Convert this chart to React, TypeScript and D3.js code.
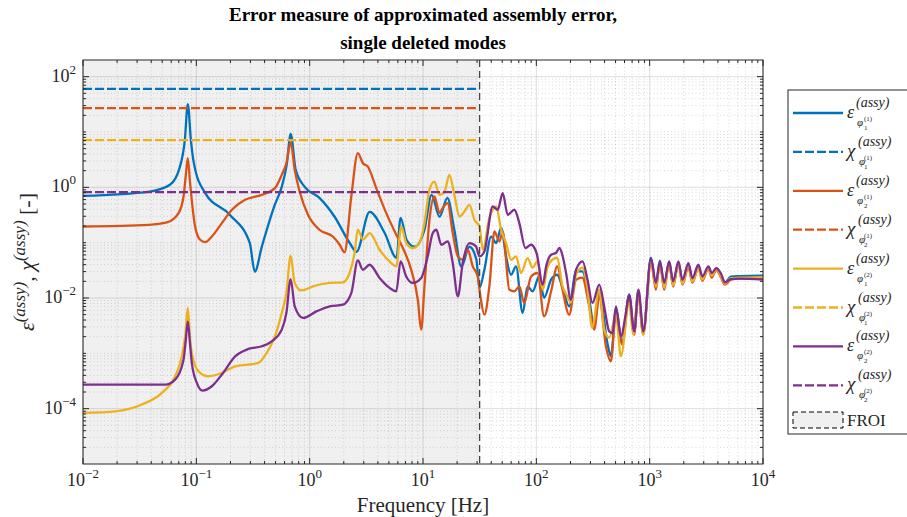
import React from 'react';
import * as d3 from 'd3';

type Pt = [number, number];

// ---------------- data (frequency [Hz], value) ----------------
const epsPhi11: Pt[] = [[0.01,0.70],[0.0389,0.84],[0.0585,1.11],[0.0716,2.34],[0.0792,7.2],[0.0841,32],[0.0895,7.2],[0.095,2.77],[0.119,0.80],[0.197,0.32],[0.296,0.0995],[0.328,0.030],[0.378,0.084],[0.492,0.48],[0.567,1.02],[0.627,2.55],[0.68,9.2],[0.753,2.07],[0.904,1.02],[1.22,0.646],[1.66,0.294],[2.25,0.0995],[2.59,0.0685],[3.38,0.361],[4.58,0.151],[5.84,0.0533],[6.34,0.281],[7.16,0.113],[8.42,0.0843],[10.3,0.171],[11.9,0.732],[14.0,0.294],[16.4,0.646],[18.9,0.171],[21.8,0.0367],[25.7,0.0843],[29.6,0.049],[31.5,0.0153],[34.8,0.0324],[39.9,0.129],[44.2,0.0984],[48.9,0.184],[54.1,0.0564],[59.8,0.0263],[66.2,0.0372],[75.7,0.00536],[83.8,0.0162],[92.7,0.0132],[106,0.0245],[117,0.0101],[135,0.0214],[153,0.0263],[169,0.0162],[195,0.00705],[224,0.0302],[254,0.0302],[293,0.0093],[324,0.00307],[359,0.0132],[423,0.00156],[455,0.000883],[504,0.00615],[572,0.00156],[659,0.0115],[730,0.00237],[792,0.0132],[877,0.00237],[1026,0.0534],[1135,0.0167],[1231,0.0471],[1343,0.016],[1486,0.0452],[1611,0.0174],[1794,0.0434],[1945,0.0189],[2198,0.0399],[2383,0.0205],[2692,0.0375],[2917,0.0223],[3296,0.0352],[3532,0.0263],[3873,0.0339],[4236,0.0263],[4624,0.0189],[5190,0.0243],[6144,0.0248],[10000,0.0253]];

const epsPhi21: Pt[] = [[0.01,0.196],[0.0379,0.21],[0.055,0.232],[0.0697,0.342],[0.0771,0.682],[0.0808,1.68],[0.0841,3.37],[0.0881,1.19],[0.0975,0.196],[0.108,0.113],[0.1196,0.1026],[0.137,0.129],[0.168,0.226],[0.206,0.393],[0.269,0.595],[0.378,0.732],[0.494,0.967],[0.567,1.68],[0.623,2.73],[0.68,6.44],[0.738,2.07],[0.816,0.84],[0.966,0.319],[1.22,0.171],[1.60,0.129],[1.84,0.0917],[2.03,0.0666],[2.33,0.682],[2.66,4.14],[2.95,2.73],[3.26,2.37],[3.87,0.967],[4.74,0.342],[5.81,0.139],[6.64,0.08],[7.87,0.0324],[9.0,0.0093],[9.64,0.00268],[10.3,0.0162],[11.4,0.259],[12.6,0.682],[14.0,0.342],[14.9,0.421],[16.5,0.519],[18.3,0.149],[20.3,0.0564],[22.4,0.0491],[24.8,0.0745],[27.5,0.0372],[30.4,0.0245],[32.1,0.0107],[34.8,0.005],[38.5,0.0162],[42.7,0.159],[47.2,0.105],[50.5,0.159],[57.8,0.0141],[64.0,0.0132],[70.8,0.0162],[78.3,0.00813],[89.8,0.0245],[102.6,0.0283],[117,0.00466],[135,0.0132],[153,0.0372],[169,0.0152],[195,0.005],[224,0.0214],[254,0.0233],[293,0.00705],[324,0.00268],[359,0.0107],[411,0.00134],[455,0.000718],[504,0.00573],[572,0.00144],[659,0.0107],[730,0.00218],[792,0.0123],[877,0.00218],[1026,0.0458],[1135,0.0141],[1231,0.0442],[1343,0.0141],[1486,0.0442],[1611,0.016],[1794,0.0442],[1945,0.0174],[2198,0.036],[2383,0.0189],[2692,0.0352],[2917,0.0205],[3296,0.0339],[3532,0.0233],[3873,0.0324],[4236,0.024],[4624,0.0174],[5190,0.0214],[6144,0.0223],[10000,0.0226]];

const epsPhi12: Pt[] = [[0.01,0.0000839],[0.0193,0.0000897],[0.0331,0.000119],[0.0497,0.000193],[0.065,0.000385],[0.0745,0.000883],[0.08,0.00218],[0.0841,0.0066],[0.0881,0.00177],[0.0912,0.00102],[0.1045,0.000473],[0.128,0.000385],[0.168,0.000443],[0.22,0.000582],[0.288,0.000625],[0.353,0.000671],[0.418,0.00102],[0.494,0.00203],[0.567,0.00536],[0.623,0.0123],[0.68,0.058],[0.738,0.0187],[0.845,0.0137],[1.07,0.0162],[1.50,0.0187],[1.96,0.0191],[2.25,0.0283],[2.49,0.0649],[2.66,0.171],[2.95,0.113],[3.38,0.149],[4.14,0.0745],[5.07,0.0458],[5.81,0.0372],[6.43,0.196],[7.11,0.0984],[8.13,0.08],[9.31,0.0984],[10.3,0.226],[11.4,0.901],[12.6,1.27],[14.0,0.732],[15.5,0.84],[17.1,1.68],[18.9,0.732],[21.0,0.297],[23.2,0.366],[25.7,0.483],[28.4,0.259],[31.5,0.196],[33.7,0.0745],[38.5,0.278],[44.2,0.45],[48.9,0.171],[54.1,0.0984],[59.8,0.0491],[66.2,0.0564],[73.3,0.0283],[83.8,0.0527],[92.7,0.0352],[102,0.0458],[114,0.0141],[125,0.0352],[138,0.0491],[153,0.0534],[169,0.0174],[188,0.0107],[202,0.00822],[224,0.0263],[254,0.0352],[281,0.0162],[311,0.00291],[359,0.0141],[397,0.00268],[440,0.00192],[504,0.005],[557,0.000883],[659,0.00822],[716,0.00218],[792,0.0125],[877,0.00218],[1026,0.0458],[1135,0.016],[1231,0.0434],[1343,0.0153],[1486,0.0434],[1611,0.0167],[1794,0.0434],[1945,0.0181],[2198,0.0399],[2383,0.0197],[2692,0.0345],[2917,0.0214],[3296,0.0352],[3532,0.0253],[3873,0.0339],[4236,0.0253],[4624,0.0181],[5190,0.0228],[6144,0.0232],[10000,0.0239]];

const epsPhi22: Pt[] = [[0.01,0.000272],[0.0531,0.000272],[0.065,0.000335],[0.0771,0.000769],[0.0808,0.00177],[0.0841,0.00378],[0.0881,0.00144],[0.0912,0.000671],[0.101,0.000292],[0.1134,0.000212],[0.137,0.000254],[0.168,0.000413],[0.22,0.000883],[0.288,0.0012],[0.378,0.00134],[0.463,0.00165],[0.567,0.00268],[0.623,0.00536],[0.68,0.022],[0.738,0.00705],[0.873,0.00436],[1.15,0.00573],[1.50,0.00705],[1.96,0.00757],[2.33,0.0123],[2.66,0.0477],[2.95,0.0324],[3.38,0.0399],[4.14,0.023],[5.07,0.0152],[5.81,0.0132],[6.34,0.0458],[7.11,0.0245],[8.13,0.0187],[9.64,0.023],[11.0,0.0564],[12.2,0.149],[13.1,0.171],[14.5,0.0917],[16.5,0.105],[18.3,0.0428],[20.3,0.0107],[22.4,0.0428],[25.7,0.0984],[29.4,0.0854],[31.5,0.0564],[34.8,0.0694],[41.2,0.45],[45.6,0.393],[50.5,0.786],[55.9,0.319],[64.0,0.393],[70.8,0.226],[80.0,0.08],[89.8,0.0917],[100.5,0.0649],[114,0.0175],[122,0.0372],[135,0.0605],[149,0.0649],[160,0.08],[171,0.0564],[183,0.0283],[202,0.0093],[224,0.0324],[256,0.0458],[283,0.0214],[313,0.00813],[359,0.0174],[397,0.00705],[440,0.00249],[470,0.00233],[504,0.00705],[557,0.00203],[617,0.00536],[659,0.0115],[730,0.00249],[796,0.0141],[881,0.00249],[1026,0.0527],[1135,0.0187],[1231,0.0458],[1343,0.0187],[1486,0.0458],[1611,0.02],[1794,0.0458],[1945,0.0214],[2198,0.0428],[2383,0.023],[2692,0.0399],[2917,0.0245],[3296,0.0372],[3532,0.0283],[3873,0.0348],[4236,0.0283],[4624,0.0191],[5190,0.022],[6144,0.0223],[10000,0.0214]];

// chi^(assy) levels (constant over the FROI)
const chiPhi11 = 60;
const chiPhi21 = 26.9;
const chiPhi12 = 7.1;
const chiPhi22 = 0.82;

const froiRange: [number, number] = [0.01, 31.6];
const xTickExponents = [-2, -1, 0, 1, 2, 3, 4];
const yTickExponents = [-4, -2, 0, 2];

const seriesColors = ['#0072BD', '#D95319', '#EDB120', '#7E2F8E'];
const legendSub = [['1', '1'], ['1', '1'], ['2', '1'], ['2', '1'], ['1', '2'], ['1', '2'], ['2', '2'], ['2', '2']];

const FONT = "Liberation Serif";
const AX = '#262626';

export default function App() {
  const L = 83, R = 763, T = 60, B = 464;
  const x = d3.scaleLog().domain([0.01, 10000]).range([L, R]);
  const y = d3.scaleLog().domain([1e-5, 200]).range([B, T]);
  const line = d3.line<Pt>().x(d => x(d[0])).y(d => y(d[1])).curve(d3.curveMonotoneX);

  const epsSeries = [epsPhi11, epsPhi21, epsPhi12, epsPhi22];
  const chiSeries = [chiPhi11, chiPhi21, chiPhi12, chiPhi22];

  const xMinor: number[] = [];
  for (let k = -2; k < 4; k++) for (let m = 2; m <= 9; m++) xMinor.push(m * Math.pow(10, k));
  const xMajor = xTickExponents.map(e => Math.pow(10, e));
  const yMajor = yTickExponents.map(e => Math.pow(10, e));
  const yMinor: number[] = [];
  for (let k = -5; k <= 2; k++) for (let m = 1; m <= 9; m++) {
    const v = m * Math.pow(10, k);
    if (v <= 1e-5 || v >= 200) continue;
    if (m === 1 && k % 2 === 0) continue;
    yMinor.push(v);
  }

  const froiX = x(froiRange[1]);
  const legX = 788, legY = 90, legW = 140, legH = 344;
  const rowY = (i: number) => 113 + i * 38.9;

  return (
    <svg width={907} height={517} fontFamily={FONT} style={{ position: 'absolute', left: 0, top: 0 }}>
      <rect x={0} y={0} width={907} height={517} fill="#ffffff" />
      <defs>
        <clipPath id="plotClip"><rect x={L} y={T} width={R - L} height={B - T} /></clipPath>
      </defs>
      <rect x={L} y={T} width={R - L} height={B - T} fill="#ffffff" />
      <rect x={x(froiRange[0])} y={T} width={froiX - x(froiRange[0])} height={B - T} fill="#f0f0f0" />

      {/* minor grid */}
      <g stroke={AX} strokeOpacity={0.22} strokeWidth={0.8} strokeDasharray="1,2.5">
        {xMinor.map((v, i) => <line key={'xm' + i} x1={x(v)} x2={x(v)} y1={T} y2={B} />)}
        {yMinor.map((v, i) => <line key={'ym' + i} x1={L} x2={R} y1={y(v)} y2={y(v)} />)}
      </g>
      {/* major grid */}
      <g stroke={AX} strokeOpacity={0.15} strokeWidth={1}>
        {xMajor.map((v, i) => <line key={'xM' + i} x1={x(v)} x2={x(v)} y1={T} y2={B} />)}
        {yMajor.map((v, i) => <line key={'yM' + i} x1={L} x2={R} y1={y(v)} y2={y(v)} />)}
      </g>

      <g clipPath="url(#plotClip)" fill="none" strokeWidth={2.3} strokeLinejoin="round">
        {epsSeries.map((s, i) => (
          <g key={'s' + i}>
            <path d={line(s) || ''} stroke={seriesColors[i]} />
            <line x1={x(froiRange[0])} x2={froiX} y1={y(chiSeries[i])} y2={y(chiSeries[i])}
              stroke={seriesColors[i]} strokeDasharray="9,3" />
          </g>
        ))}
      </g>

      {/* FROI edge */}
      <line x1={froiX} x2={froiX} y1={T} y2={B} stroke="#444" strokeWidth={1.3} strokeDasharray="7,4" />

      {/* axes box */}
      <rect x={L} y={T} width={R - L} height={B - T} fill="none" stroke={AX} strokeWidth={1} />
      <g stroke={AX} strokeWidth={1}>
        {xMajor.map((v, i) => <g key={'xt' + i}>
          <line x1={x(v)} x2={x(v)} y1={B} y2={B - 6} />
          <line x1={x(v)} x2={x(v)} y1={T} y2={T + 6} />
        </g>)}
        {xMinor.map((v, i) => <g key={'xmt' + i}>
          <line x1={x(v)} x2={x(v)} y1={B} y2={B - 3} />
          <line x1={x(v)} x2={x(v)} y1={T} y2={T + 3} />
        </g>)}
        {yMajor.map((v, i) => <g key={'yt' + i}>
          <line x1={L} x2={L + 6} y1={y(v)} y2={y(v)} />
          <line x1={R} x2={R - 6} y1={y(v)} y2={y(v)} />
        </g>)}
        {yMinor.map((v, i) => <g key={'ymt' + i}>
          <line x1={L} x2={L + 3} y1={y(v)} y2={y(v)} />
          <line x1={R} x2={R - 3} y1={y(v)} y2={y(v)} />
        </g>)}
      </g>

      {/* tick labels */}
      <g fill={AX} fontFamily={FONT}>
        {xTickExponents.map((e, i) => (
          <text key={'xl' + i} x={x(Math.pow(10, e))} y={486} textAnchor="middle" fontSize={18}>
            <tspan>10</tspan>
            <tspan dy={-8} fontSize={13}>{e < 0 ? '\u2212' + Math.abs(e) : String(e)}</tspan>
          </text>
        ))}
        {yTickExponents.map((e, i) => (
          <text key={'yl' + i} x={76} y={y(Math.pow(10, e)) + 5} textAnchor="end" fontSize={18}>
            <tspan>10</tspan>
            <tspan dy={-8} fontSize={13}>{e < 0 ? '\u2212' + Math.abs(e) : String(e)}</tspan>
          </text>
        ))}
      </g>

      {/* axis labels */}
      <text x={(L + R) / 2} y={512} textAnchor="middle" fontSize={21} fill={AX} fontFamily={FONT}>Frequency [Hz]</text>
      <text transform={`translate(34,${(T + B) / 2}) rotate(-90)`} textAnchor="middle" fontSize={22} fill={AX} fontFamily={FONT}>
        <tspan fontStyle="italic">ε</tspan>
        <tspan dy={-9} fontSize={17} fontStyle="italic">(assy)</tspan>
        <tspan dy={9}>, </tspan>
        <tspan fontStyle="italic">χ</tspan>
        <tspan dy={-9} fontSize={17} fontStyle="italic">(assy)</tspan>
        <tspan dy={9}> [-]</tspan>
      </text>

      {/* title */}
      <text x={(L + R) / 2} y={21} textAnchor="middle" fontSize={19} fontWeight="bold" fill="#000" fontFamily={FONT}>
        Error measure of approximated assembly error,
      </text>
      <text x={(L + R) / 2} y={49} textAnchor="middle" fontSize={19} fontWeight="bold" fill="#000" fontFamily={FONT}>
        single deleted modes
      </text>

      {/* legend */}
      <rect x={legX} y={legY} width={legW} height={legH} fill="#ffffff" stroke={AX} strokeWidth={1} />
      {legendSub.map((s, i) => {
        const yc = rowY(i);
        const col = seriesColors[Math.floor(i / 2)];
        const isChi = i % 2 === 1;
        return (
          <g key={'lg' + i}>
            <line x1={793} x2={843} y1={yc} y2={yc} stroke={col} strokeWidth={2.3}
              strokeDasharray={isChi ? '9,3' : undefined} />
            <text fill={AX} fontStyle="italic" fontFamily={FONT}>
              <tspan x={847} y={yc + 5} fontSize={isChi ? 19 : 18}>{isChi ? 'χ' : 'ε'}</tspan>
              <tspan x={isChi ? 858 : 856} y={yc - 6} fontSize={14}>(assy)</tspan>
              <tspan x={isChi ? 859 : 857} y={yc + 13} fontSize={11}>φ</tspan>
              <tspan x={864} y={yc + 8} fontSize={7} fontStyle="normal">({s[1]})</tspan>
              <tspan x={864} y={yc + 17} fontSize={7} fontStyle="normal">{s[0]}</tspan>
            </text>
          </g>
        );
      })}
      <rect x={793} y={412} width={50} height={16} fill="#f0f0f0" stroke="#000" strokeWidth={1} strokeDasharray="5,3" />
      <text x={847} y={426} fontSize={17} fill={AX} fontFamily={FONT}>FROI</text>
    </svg>
  );
}
